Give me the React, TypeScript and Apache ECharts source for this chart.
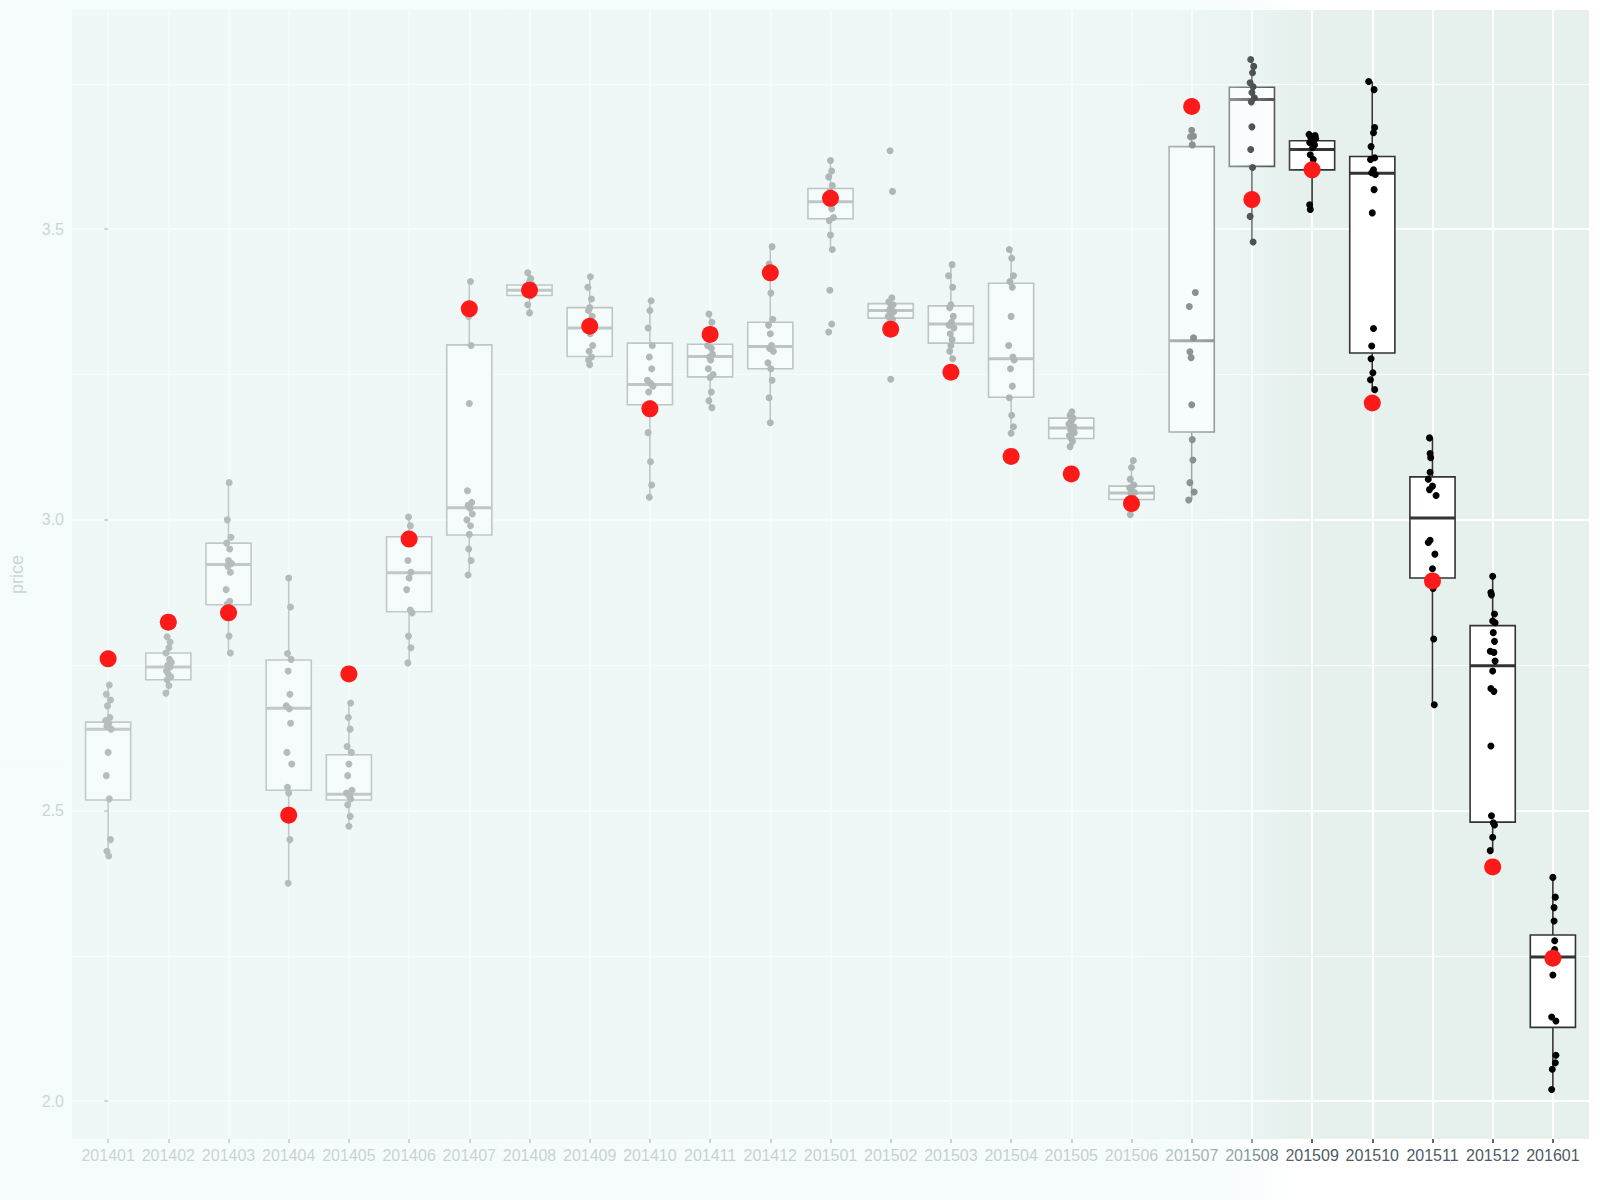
import React, { useEffect, useRef } from "react";
import * as echarts from "echarts";

// months on the x axis
const months = [
  "201401", "201402", "201403", "201404", "201405", "201406", "201407", "201408",
  "201409", "201410", "201411", "201412", "201501", "201502", "201503", "201504",
  "201505", "201506", "201507", "201508", "201509", "201510", "201511", "201512", "201601",
];

// box statistics per month
const boxLow = [2.422, 2.702, 2.771, 2.375, 2.473, 2.754, 2.905, 3.356, 3.267, 3.039, 3.193, 3.167, 3.465, 3.337, 3.277, 3.149, 3.126, 3.009, 3.034, 3.478, 3.534, 3.224, 2.682, 2.432, 2.021];
const boxQ1 = [2.518, 2.725, 2.854, 2.535, 2.518, 2.842, 2.974, 3.386, 3.281, 3.198, 3.246, 3.26, 3.518, 3.347, 3.304, 3.211, 3.14, 3.035, 3.151, 3.608, 3.602, 3.287, 2.9, 2.48, 2.127];
const boxMedian = [2.64, 2.747, 2.923, 2.676, 2.528, 2.909, 3.021, 3.395, 3.33, 3.233, 3.281, 3.298, 3.547, 3.36, 3.337, 3.277, 3.158, 3.046, 3.308, 3.723, 3.637, 3.596, 3.003, 2.749, 2.248];
const boxQ3 = [2.652, 2.771, 2.96, 2.759, 2.596, 2.971, 3.301, 3.404, 3.365, 3.304, 3.302, 3.34, 3.57, 3.372, 3.368, 3.407, 3.175, 3.058, 3.642, 3.744, 3.652, 3.625, 3.074, 2.818, 2.286];
const boxHigh = [2.716, 2.799, 3.064, 2.9, 2.685, 3.005, 3.41, 3.425, 3.418, 3.377, 3.354, 3.47, 3.618, 3.382, 3.439, 3.465, 3.186, 3.102, 3.663, 3.792, 3.663, 3.754, 3.141, 2.903, 2.386];

// the red marker per month
const redValues = [2.761, 2.824, 2.84, 2.492, 2.735, 2.967, 3.363, 3.395, 3.333, 3.191, 3.319, 3.425, 3.553, 3.328, 3.254, 3.109, 3.079, 3.028, 3.711, 3.551, 3.602, 3.201, 2.895, 2.403, 2.246];

// daily prices per month (black points)
const dayPrices = [
  [2.716, 2.7, 2.69, 2.68, 2.66, 2.655, 2.65, 2.645, 2.64, 2.6, 2.56, 2.52, 2.45, 2.43, 2.422],
  [2.799, 2.79, 2.78, 2.771, 2.76, 2.755, 2.75, 2.747, 2.74, 2.735, 2.73, 2.725, 2.715, 2.702],
  [3.064, 3.0, 2.97, 2.96, 2.95, 2.93, 2.925, 2.92, 2.91, 2.88, 2.86, 2.855, 2.8, 2.771],
  [2.9, 2.85, 2.77, 2.76, 2.74, 2.7, 2.68, 2.675, 2.65, 2.6, 2.58, 2.54, 2.53, 2.45, 2.375],
  [2.685, 2.66, 2.64, 2.61, 2.6, 2.58, 2.56, 2.535, 2.53, 2.525, 2.52, 2.51, 2.49, 2.473],
  [3.005, 2.99, 2.975, 2.97, 2.96, 2.93, 2.91, 2.9, 2.88, 2.845, 2.84, 2.8, 2.78, 2.754],
  [3.41, 3.35, 3.3, 3.2, 3.05, 3.03, 3.025, 3.02, 3.01, 3.0, 2.99, 2.975, 2.95, 2.93, 2.905],
  [3.425, 3.415, 3.41, 3.405, 3.4, 3.398, 3.395, 3.393, 3.39, 3.388, 3.385, 3.37, 3.356],
  [3.418, 3.4, 3.38, 3.365, 3.36, 3.35, 3.34, 3.33, 3.32, 3.3, 3.29, 3.28, 3.275, 3.267],
  [3.377, 3.36, 3.33, 3.3, 3.28, 3.26, 3.24, 3.235, 3.23, 3.22, 3.2, 3.195, 3.15, 3.1, 3.06, 3.039],
  [3.354, 3.34, 3.32, 3.3, 3.295, 3.285, 3.28, 3.275, 3.26, 3.25, 3.245, 3.22, 3.205, 3.193],
  [3.47, 3.44, 3.39, 3.345, 3.335, 3.32, 3.3, 3.295, 3.29, 3.27, 3.26, 3.24, 3.21, 3.167],
  [3.618, 3.6, 3.59, 3.575, 3.565, 3.55, 3.547, 3.545, 3.535, 3.52, 3.515, 3.49, 3.465, 3.395, 3.337, 3.323],
  [3.635, 3.565, 3.382, 3.375, 3.37, 3.365, 3.36, 3.358, 3.355, 3.35, 3.345, 3.34, 3.337, 3.242],
  [3.439, 3.42, 3.4, 3.37, 3.365, 3.35, 3.34, 3.335, 3.33, 3.32, 3.31, 3.3, 3.29, 3.277],
  [3.465, 3.45, 3.42, 3.41, 3.4, 3.35, 3.3, 3.28, 3.275, 3.26, 3.23, 3.21, 3.18, 3.16, 3.149],
  [3.186, 3.18, 3.175, 3.17, 3.165, 3.16, 3.158, 3.155, 3.15, 3.145, 3.14, 3.135, 3.126],
  [3.102, 3.09, 3.07, 3.06, 3.055, 3.05, 3.047, 3.045, 3.04, 3.036, 3.03, 3.02, 3.009],
  [3.67, 3.66, 3.659, 3.645, 3.391, 3.367, 3.313, 3.289, 3.279, 3.198, 3.138, 3.103, 3.064, 3.048, 3.034],
  [3.792, 3.78, 3.769, 3.752, 3.745, 3.735, 3.726, 3.719, 3.676, 3.637, 3.606, 3.522, 3.478],
  [3.663, 3.661, 3.659, 3.657, 3.656, 3.654, 3.649, 3.645, 3.64, 3.628, 3.62, 3.542, 3.534],
  [3.754, 3.74, 3.675, 3.666, 3.642, 3.623, 3.62, 3.602, 3.597, 3.594, 3.568, 3.528, 3.329, 3.299, 3.277, 3.253, 3.241, 3.224],
  [3.141, 3.114, 3.107, 3.082, 3.07, 3.058, 3.052, 3.042, 2.965, 2.961, 2.941, 2.916, 2.882, 2.795, 2.682],
  [2.903, 2.875, 2.871, 2.838, 2.826, 2.823, 2.806, 2.791, 2.774, 2.772, 2.757, 2.74, 2.71, 2.705, 2.611, 2.491, 2.479, 2.475, 2.454, 2.431],
  [2.385, 2.351, 2.333, 2.31, 2.276, 2.261, 2.217, 2.145, 2.138, 2.079, 2.066, 2.055, 2.02],
];

// horizontal jitter of each daily point (in months)
const dayJitter = [
  [0.02, -0.03, 0.04, -0.01, 0.03, -0.04, 0.01, -0.02, 0.05, 0.0, -0.03, 0.02, 0.04, -0.02, 0.01],
  [-0.02, 0.03, 0.01, -0.04, 0.02, 0.05, -0.01, 0.03, -0.03, 0.0, 0.04, -0.02, 0.01, -0.04],
  [0.01, -0.02, 0.04, -0.03, 0.02, 0.0, 0.05, -0.01, 0.03, -0.04, 0.02, -0.02, 0.01, 0.03],
  [0.0, 0.03, -0.02, 0.04, -0.01, 0.02, -0.04, 0.01, 0.03, -0.03, 0.05, -0.02, 0.0, 0.02, -0.01],
  [0.03, -0.01, 0.02, -0.03, 0.04, 0.0, -0.02, 0.05, -0.04, 0.01, 0.03, -0.02, 0.02, 0.0],
  [-0.01, 0.02, -0.03, 0.04, 0.01, -0.02, 0.03, 0.0, -0.04, 0.02, 0.05, -0.01, 0.03, -0.02],
  [0.02, -0.01, 0.03, 0.0, -0.03, 0.04, -0.02, 0.01, 0.05, -0.04, 0.02, 0.0, -0.01, 0.03, -0.02],
  [-0.03, 0.02, 0.0, 0.04, -0.02, 0.03, -0.04, 0.01, 0.05, -0.01, 0.02, -0.03, 0.0],
  [0.01, -0.03, 0.03, 0.0, -0.02, 0.04, 0.02, -0.04, 0.01, 0.05, -0.01, 0.03, -0.02, 0.0],
  [0.02, 0.0, -0.03, 0.04, -0.01, 0.03, -0.04, 0.01, 0.05, -0.02, 0.02, 0.0, -0.03, 0.01, 0.03, -0.01],
  [-0.02, 0.03, 0.0, -0.04, 0.02, 0.04, -0.01, 0.01, -0.03, 0.05, 0.0, 0.02, -0.02, 0.03],
  [0.03, -0.02, 0.01, 0.04, -0.03, 0.0, 0.02, -0.01, 0.05, -0.04, 0.01, 0.03, -0.02, 0.0],
  [0.0, 0.02, -0.03, 0.03, -0.01, 0.04, 0.01, -0.04, 0.02, 0.05, -0.02, 0.0, 0.03, -0.01, 0.02, -0.03],
  [-0.01, 0.03, 0.02, -0.03, 0.04, 0.0, -0.02, 0.05, 0.01, -0.04, 0.03, -0.01, 0.02, 0.0],
  [0.02, -0.04, 0.03, 0.0, -0.02, 0.04, 0.01, -0.03, 0.05, -0.01, 0.02, 0.0, -0.02, 0.03],
  [-0.03, 0.01, 0.04, -0.02, 0.02, 0.0, -0.04, 0.03, 0.05, -0.01, 0.02, -0.03, 0.01, 0.04, 0.0],
  [0.01, -0.02, 0.03, 0.0, -0.04, 0.04, 0.02, -0.01, 0.05, -0.03, 0.0, 0.02, -0.02],
  [0.03, 0.0, -0.02, 0.04, -0.03, 0.01, 0.05, -0.01, 0.02, -0.04, 0.03, 0.0, -0.02],
  [0.0, 0.03, -0.02, 0.01, 0.06, -0.04, 0.03, -0.03, -0.01, 0.0, 0.01, 0.02, -0.03, 0.04, -0.05],
  [-0.02, 0.03, 0.01, -0.03, 0.02, 0.0, 0.04, -0.01, 0.0, -0.02, 0.01, -0.03, 0.02],
  [-0.05, 0.05, 0.03, -0.02, 0.06, 0.02, -0.04, 0.04, 0.01, -0.03, 0.02, -0.04, -0.03],
  [-0.06, 0.03, 0.04, 0.02, -0.02, 0.04, -0.03, 0.02, -0.01, 0.05, 0.03, 0.0, 0.02, -0.01, -0.02, 0.01, -0.03, 0.04],
  [-0.05, -0.04, -0.03, -0.04, -0.07, 0.0, -0.05, 0.06, -0.04, -0.07, 0.04, 0.0, 0.01, 0.02, 0.03],
  [0.0, -0.03, -0.02, 0.03, 0.0, 0.04, 0.01, 0.03, -0.04, 0.02, 0.04, 0.0, -0.03, 0.02, -0.03, -0.02, 0.01, 0.03, 0.0, -0.04],
  [0.0, 0.04, 0.02, 0.02, 0.03, 0.03, 0.0, -0.02, 0.05, 0.05, 0.04, -0.01, -0.02],
];

// y axis ticks
const yMajorTicks = [2.0, 2.5, 3.0, 3.5];
const yMinorTicks = [2.25, 2.75, 3.25, 3.75];
const monthIndex = months.map((m, i) => i);

const boxData = months.map((m, i) => [i, boxLow[i], boxQ1[i], boxMedian[i], boxQ3[i], boxHigh[i]]);
const pointData = [];
dayPrices.forEach((list, i) => {
  list.forEach((v, k) => pointData.push([i + dayJitter[i][k], v]));
});
const redData = redValues.map((v, i) => [i, v]);

const FONT = "'Liberation Sans', Arial, sans-serif";
const GRID_LINE = "#FFFFFF";
const HAZE = "241,250,250";

function renderBox(params, api) {
  const i = api.value(0);
  const low = api.coord([i, api.value(1)]);
  const q1 = api.coord([i, api.value(2)]);
  const med = api.coord([i, api.value(3)]);
  const q3 = api.coord([i, api.value(4)]);
  const high = api.coord([i, api.value(5)]);
  const half = api.size([0.75, 0])[0] / 2;
  const x = q1[0];
  const stroke = "#333333";
  return {
    type: "group",
    children: [
      { type: "line", shape: { x1: x, y1: high[1], x2: x, y2: q3[1] }, style: { stroke, lineWidth: 1.6 } },
      { type: "line", shape: { x1: x, y1: q1[1], x2: x, y2: low[1] }, style: { stroke, lineWidth: 1.6 } },
      {
        type: "rect",
        shape: { x: x - half, y: q3[1], width: half * 2, height: q1[1] - q3[1] },
        style: { fill: "#FFFFFF", stroke, lineWidth: 1.6 },
      },
      { type: "line", shape: { x1: x - half, y1: med[1], x2: x + half, y2: med[1] }, style: { stroke, lineWidth: 3 } },
    ],
  };
}

export default function App() {
  const ref = useRef(null);

  useEffect(() => {
    const chart = echarts.init(ref.current, null, { renderer: "svg" });
    chart.setOption({
      animation: false,
      backgroundColor: "#FFFFFF",
      grid: {
        left: 71,
        right: 11,
        top: 10,
        bottom: 61,
        show: true,
        backgroundColor: "#E6F0ED",
        borderWidth: 0,
      },
      xAxis: {
        type: "value",
        min: -0.6,
        max: 24.6,
        axisLine: { show: false },
        axisTick: { show: true, length: 4, lineStyle: { color: "#333333", width: 1.5 }, customValues: monthIndex },
        axisLabel: {
          customValues: monthIndex,
          formatter: (v) => months[Math.round(v)] || "",
          color: "#4D5A66",
          fontSize: 16,
          fontFamily: FONT,
          margin: 8,
        },
        splitLine: { show: true, lineStyle: { color: GRID_LINE, width: 2 } },
      },
      yAxis: [
        {
          type: "value",
          min: 1.935,
          max: 3.877,
          name: "price",
          nameLocation: "middle",
          nameGap: 46,
          nameTextStyle: { color: "#4D5A66", fontSize: 18, fontFamily: FONT },
          axisLine: { show: false },
          axisTick: { show: true, length: 4, lineStyle: { color: "#333333", width: 1.5 }, customValues: yMajorTicks },
          axisLabel: {
            customValues: yMajorTicks,
            formatter: (v) => v.toFixed(1),
            color: "#4D5A66",
            fontSize: 16,
            fontFamily: FONT,
            margin: 8,
          },
          splitLine: { show: true, lineStyle: { color: GRID_LINE, width: 2 } },
        },
        {
          type: "value",
          min: 1.935,
          max: 3.877,
          position: "left",
          axisLine: { show: false },
          axisTick: { show: false, customValues: yMinorTicks },
          axisLabel: { show: false, customValues: yMinorTicks },
          splitLine: { show: true, lineStyle: { color: GRID_LINE, width: 1 } },
        },
      ],
      graphic: [
        {
          type: "rect",
          z: 50,
          silent: true,
          shape: { x: 0, y: 0, width: 1300, height: 1200 },
          style: {
            fill: {
              type: "linear",
              x: 0,
              y: 0,
              x2: 1,
              y2: 0,
              colorStops: [
                { offset: 0, color: `rgba(${HAZE},0.76)` },
                { offset: 0.88, color: `rgba(${HAZE},0.72)` },
                { offset: 0.95, color: `rgba(${HAZE},0.45)` },
                { offset: 1, color: `rgba(${HAZE},0)` },
              ],
            },
          },
        },
      ],
      series: [
        {
          type: "custom",
          name: "box",
          renderItem: renderBox,
          data: boxData,
          encode: { x: 0, y: [1, 2, 3, 4, 5] },
          z: 2,
        },
        {
          type: "scatter",
          name: "days",
          data: pointData,
          symbolSize: 7,
          itemStyle: { color: "#000000", opacity: 1 },
          z: 3,
        },
        {
          type: "scatter",
          name: "current",
          data: redData,
          symbolSize: 17,
          itemStyle: { color: "#FF1A1A", opacity: 1 },
          z: 60,
        },
      ],
    });
    return () => chart.dispose();
  }, []);

  return (
    <div style={{ position: "fixed", left: 0, top: 0, width: 1600, height: 1200 }}>
      <div ref={ref} style={{ width: "100%", height: "100%" }} />
    </div>
  );
}
